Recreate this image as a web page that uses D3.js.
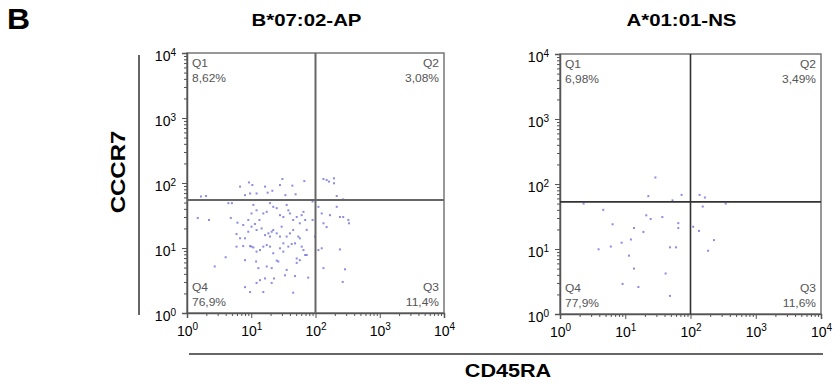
<!DOCTYPE html>
<html>
<head>
<meta charset="utf-8">
<script src="https://cdn.jsdelivr.net/npm/d3@7"></script>
<style>
body{margin:0;background:#fff;}
svg{display:block;font-family:Arial,"Liberation Sans",sans-serif;}
</style>
</head>
<body>
<svg id="chart" width="836" height="385"></svg>
<script>
// ---- data ----
const panelTitles = ["B*07:02-AP", "A*01:01-NS"];
const decadeTicks = [1, 10, 100, 1000, 10000];
const tickExponents = ["0", "1", "2", "3", "4"];
const gateX = [100, 100];
const gateY = [55, 53];
const quadNames = ["Q1", "Q2", "Q3", "Q4"];
const pctLeft = ["8,62%", "3,08%", "11,4%", "76,9%"];
const pctRight = ["6,98%", "3,49%", "11,6%", "77,9%"];

// left panel events: CD45RA, CCR7
const leftCD45RA = [6.7,9.2,10.4,16.4,28,30.5,43.6,67,8.0,9.6,12.1,18,21.3,34,49,1.65,1.98,133,149,162,194,194,214,270,90,
4.4,5.0,1.47,2.2,4.8,6.1,7.5,9.0,10.1,10.8,12.1,13.4,15.4,17.4,19.6,22,24.9,28,31.6,35.6,37.8,40,45,51,57,61,65,69,73,90,111,125,133,149,168,214,240,270,325,332,
5.9,6.7,8.0,9.0,10.1,11.4,12.1,14.5,16.4,18.5,19.6,20.8,22,24.9,28,29.7,31.6,35.6,40,45,48,54,57,61,69,73,98,111,125,240,
5.9,7.5,9.6,10.1,10.8,12.1,13.7,15.4,17.4,19.6,22,24.9,28,31.6,37.8,42.6,51,57,65,
4.0,2.7,8.0,11.9,12.9,17.4,20.8,26.4,35.6,51,133,288,265,77,48,33.5,22.6,16.4,13.7,12.1,8.0,9.6,15.4,45,20.8];
const leftCCR7 = [88,102,93,88,93,115,91,107,65,69,69,71,76,65,67,62,63,115,111,105,118,99,63,56,52,
49,49,29,27,29,24.5,22.6,27,34,46,38,27,34,36,49,43,41,32,30,46,38,34,27,30,24,32,36,27,19,27,43,34,24,21,32,43,30,30,27,24,
16.4,14.1,14.1,17.8,21.3,23.4,18.9,20,15.8,16.8,15,17.8,18.9,16.8,15,21.3,11.8,15,16.8,18.9,11.8,15,14.1,10.5,7.8,7.8,15,9.3,9.9,9.5,
10.5,10.7,10.7,10.5,10.2,8.8,9.3,10.5,11.1,10.5,8.3,6.4,9.9,8.8,10.5,11.5,6.9,6.5,9.3,
7.2,5.2,6.5,6.2,4.9,5.2,4.9,6.2,4.6,5.9,4.9,4.7,3.0,3.5,3.7,3.8,3.4,3.4,3.2,2.9,2.5,2.1,2.1,2.05,2.9];

// right panel events
const rightCD45RA = [29,22.6,53,73,138,166,2.3,4.6,154,346,6.4,21,24.5,37,65,65,13.6,19,110,135,8.8,12.2,229,6.0,3.9,48.5,60,186,11.4,13.6,41.6,9.1,15.9,48.5];
const rightCCR7 = [126,65,56,68,68,62,50,40,45,50,24,33,29,31,25,21,21,18.3,22,19,12.5,14,13.7,10.9,9.9,10.6,10.6,9.4,7.9,5.0,4.2,2.9,2.6,1.9];

// ---- layout ----
const svg = d3.select("#chart");
const panels = [
  {x0:187, x1:444, y0:313, y1:53, title:panelTitles[0], gx:gateX[0], gy:gateY[0], pct:pctLeft, xs:leftCD45RA, ys:leftCCR7, gateW:2, gateC:"#666"},
  {x0:560, x1:821, y0:314, y1:54, title:panelTitles[1], gx:gateX[1], gy:gateY[1], pct:pctRight, xs:rightCD45RA, ys:rightCCR7, gateW:1.6, gateC:"#333"}
];

// widen text horizontally like the reference rendering
function stretch(sel, k){
  sel.each(function(){
    const len = this.getComputedTextLength();
    d3.select(this).attr("textLength", len*k).attr("lengthAdjust","spacingAndGlyphs");
  });
}

function supLabel(sel){
  sel.each(function(d){
    const t = d3.select(this);
    t.text(null);
    t.append("tspan").text("10");
    t.append("tspan").attr("dy","-0.55em").attr("font-size","10px").text(tickExponents[decadeTicks.indexOf(d)]);
  });
}

panels.forEach(p => {
  const x = d3.scaleLog().domain([1,10000]).range([p.x0,p.x1]);
  const y = d3.scaleLog().domain([1,10000]).range([p.y0,p.y1]);
  const g = svg.append("g");

  // frame
  g.append("rect").attr("x",p.x0).attr("y",p.y1).attr("width",p.x1-p.x0).attr("height",p.y0-p.y1)
    .attr("fill","none").attr("stroke","#777").attr("stroke-width",1.5);

  // minor ticks
  const minor = x.ticks().filter(v => decadeTicks.indexOf(v) < 0);
  g.append("g").attr("transform",`translate(0,${p.y0})`)
    .call(d3.axisBottom(x).tickValues(minor).tickSize(3).tickFormat(""))
    .call(a=>{a.select(".domain").remove(); a.selectAll("line").attr("stroke","#555");});
  g.append("g").attr("transform",`translate(${p.x0},0)`)
    .call(d3.axisLeft(y).tickValues(minor).tickSize(3).tickFormat(""))
    .call(a=>{a.select(".domain").remove(); a.selectAll("line").attr("stroke","#555");});

  // major ticks + labels
  g.append("g").attr("transform",`translate(0,${p.y0})`)
    .call(d3.axisBottom(x).tickValues(decadeTicks).tickSize(5).tickPadding(8))
    .call(a=>{
      a.select(".domain").attr("stroke","#555").attr("stroke-width",1.5);
      a.selectAll("line").attr("stroke","#555");
      a.selectAll("text").attr("font-size","14px").attr("fill","#000").attr("font-family","Arial, 'Liberation Sans', sans-serif").call(supLabel);
    });
  g.append("g").attr("transform",`translate(${p.x0},0)`)
    .call(d3.axisLeft(y).tickValues(decadeTicks).tickSize(5).tickPadding(6))
    .call(a=>{
      a.select(".domain").attr("stroke","#555").attr("stroke-width",1.5);
      a.selectAll("line").attr("stroke","#555");
      a.selectAll("text").attr("font-size","14px").attr("fill","#000").attr("dy","0.55em").attr("font-family","Arial, 'Liberation Sans', sans-serif").call(supLabel);
    });

  // events
  g.append("g").selectAll("rect").data(p.xs.map((v,i)=>[v,p.ys[i]])).join("rect")
    .attr("x",d=>x(d[0])-1).attr("y",d=>y(d[1])-1).attr("width",2).attr("height",2)
    .attr("fill","#5b5bd6").attr("opacity",0.7);

  // gates
  g.append("line").attr("x1",x(p.gx)).attr("x2",x(p.gx)).attr("y1",p.y1).attr("y2",p.y0)
    .attr("stroke",p.gateC).attr("stroke-width",p.gateW);
  g.append("line").attr("x1",p.x0).attr("x2",p.x1).attr("y1",y(p.gy)).attr("y2",y(p.gy))
    .attr("stroke",p.gateC).attr("stroke-width",p.gateW);

  // quadrant labels
  const addQ = (tx,ty,anchor,lines) => {
    lines.forEach((s,k)=>{
      g.append("text").attr("x",tx).attr("y",ty+k*15).attr("text-anchor",anchor)
        .attr("font-size","10px").attr("fill","#555").text(s).call(stretch,1.2);
    });
  };
  addQ(p.x0+5, p.y1+14, "start", [quadNames[0], p.pct[0]]);
  addQ(p.x1-5, p.y1+14, "end", [quadNames[1], p.pct[1]]);
  addQ(p.x1-5, p.y0-22, "end", [quadNames[2], p.pct[2]]);
  addQ(p.x0+5, p.y0-22, "start", [quadNames[3], p.pct[3]]);

  // title
  svg.append("text").attr("x",(p.x0+p.x1)/2-9).attr("y",26).attr("text-anchor","middle")
    .attr("font-size","17px").attr("font-weight","bold").text(p.title).call(stretch,1.2);
});

// panel letter
svg.append("text").attr("x",7).attr("y",29).attr("font-size","29px").attr("font-weight","bold").text("B").call(stretch,1.1);

// shared y label
svg.append("line").attr("x1",139).attr("x2",139).attr("y1",55).attr("y2",315).attr("stroke","#333").attr("stroke-width",1.5);
svg.append("text").attr("transform","translate(125,172) rotate(-90)").attr("text-anchor","middle")
  .attr("font-size","20px").attr("font-weight","bold").text("CCCR7").call(stretch,1.2);

// shared x label
svg.append("line").attr("x1",189).attr("x2",823).attr("y1",354).attr("y2",354).attr("stroke","#333").attr("stroke-width",1.5);
svg.append("text").attr("x",508).attr("y",377).attr("text-anchor","middle")
  .attr("font-size","18px").attr("font-weight","bold").text("CD45RA").call(stretch,1.2);
</script>
</body>
</html>
